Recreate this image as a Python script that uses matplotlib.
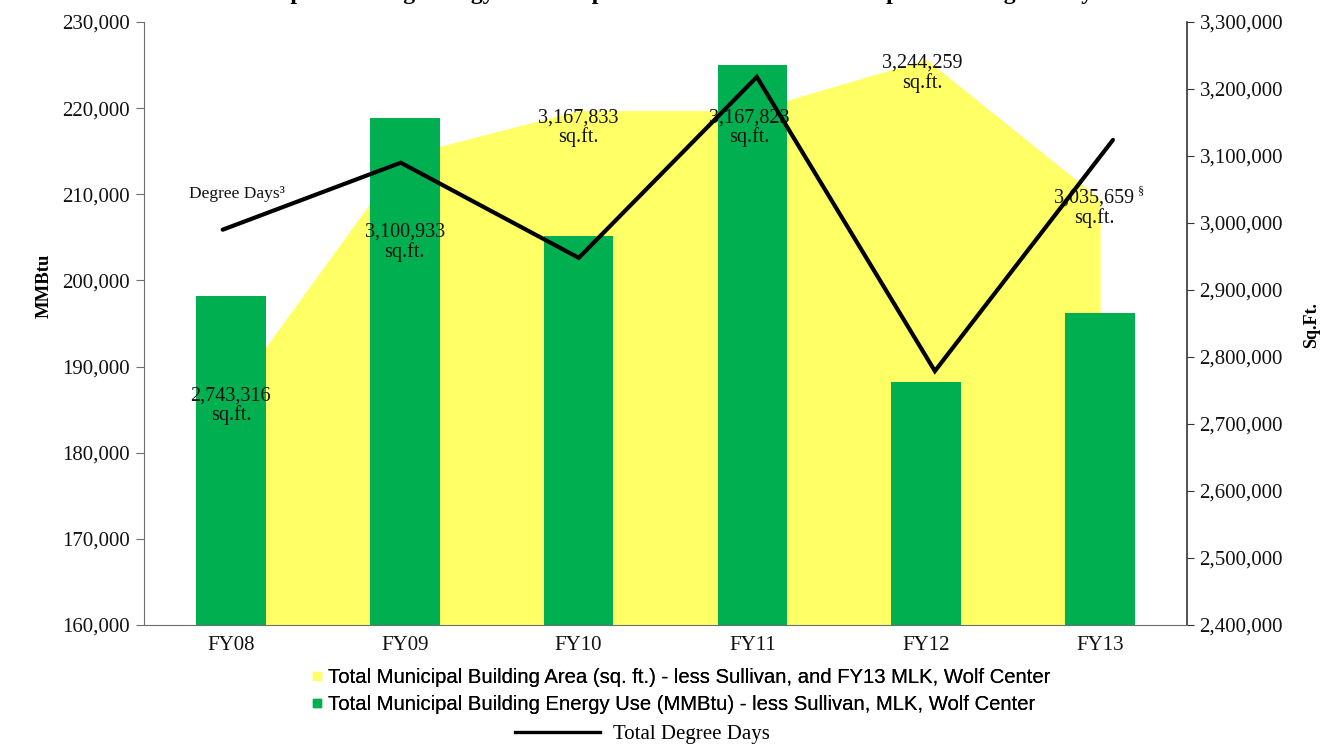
import matplotlib
matplotlib.use("Agg")
import matplotlib.pyplot as plt
from matplotlib.lines import Line2D
from matplotlib.ticker import FuncFormatter, MultipleLocator

# ---- data -------------------------------------------------------------
years = ["FY08", "FY09", "FY10", "FY11", "FY12", "FY13"]
energy_mmbtu = [198200, 218900, 205200, 225000, 188200, 196200]
area_sqft = [2743316, 3100933, 3167833, 3167823, 3244259, 3035659]
area_labels = ["2,743,316", "3,100,933", "3,167,833", "3,167,823", "3,244,259", "3,035,659"]
# degree-day curve, expressed on the square-foot scale it is drawn against
degree_days_scaled = [2990000, 3090000, 2948000, 3218000, 2779000, 3124000]

title = "Municipal Building Energy Use Compared to Total Area and Compared to Degree Days"
area_legend = "Total Municipal Building Area (sq. ft.) - less Sullivan, and FY13 MLK, Wolf Center"
energy_legend = "Total Municipal Building Energy Use (MMBtu) - less Sullivan, MLK, Wolf Center"
dd_legend = "Total Degree Days"

# ---- style --------------------------------------------------------------
SERIF = ["Liberation Serif", "DejaVu Serif"]
SANS = ["Liberation Sans", "DejaVu Sans"]
YELLOW = "#FFFF66"
GREEN = "#00B050"
AXIS_GRAY = "#6e6e6e"
plt.rcParams["font.family"] = SERIF

W, H = 1320, 745
fig = plt.figure(figsize=(W / 100, H / 100), dpi=100)
rect = [144 / W, 1 - 625 / H, (1187 - 144) / W, (625 - 22) / H]

ax = fig.add_axes(rect)            # MMBtu bars
ax2 = ax.twinx()                   # square-foot area
ax_dd = fig.add_axes(rect)         # degree-day line overlay

x = list(range(len(years)))

# area (behind the bars)
ax2.fill_between(x, 2400000, area_sqft, color=YELLOW, linewidth=0, zorder=1)
ax2.set_ylim(2400000, 3300000)
ax2.yaxis.set_major_locator(MultipleLocator(100000))

# bars in front of the area
ax.set_zorder(ax2.get_zorder() + 1)
ax.patch.set_visible(False)
ax.bar(x, [v - 160000 for v in energy_mmbtu], bottom=160000, width=0.4,
       color=GREEN, zorder=2)
ax.set_xlim(-0.5, len(years) - 0.5)
ax.set_ylim(160000, 230000)
ax.yaxis.set_major_locator(MultipleLocator(10000))
ax.set_xticks(x)
ax.set_xticklabels(years)

fmt = FuncFormatter(lambda v, p: f"{int(round(v)):,}")
ax.yaxis.set_major_formatter(fmt)
ax2.yaxis.set_major_formatter(fmt)

for a in (ax, ax2):
    a.tick_params(labelsize=15, colors="#111111")
    for s in a.spines.values():
        s.set_visible(False)
ax.spines["left"].set_visible(True)
ax.spines["bottom"].set_visible(True)
ax.spines["left"].set_color(AXIS_GRAY)
ax.spines["bottom"].set_color(AXIS_GRAY)
ax2.spines["right"].set_visible(True)
ax2.spines["right"].set_color("#333333")
ax2.spines["right"].set_linewidth(1.2)
ax.tick_params(axis="y", direction="out", length=6, color=AXIS_GRAY, pad=4)
ax.tick_params(axis="x", length=0, pad=8)
ax2.tick_params(axis="y", direction="out", length=5, color="#333333", pad=4)

# area value labels, drawn over the bars
label_offsets = [(0, -11), (0, -87), (0, -17), (-3, -17), (-4, -14), (-6, -9)]
for i, (val, txt) in enumerate(zip(area_sqft, area_labels)):
    dx, dy = label_offsets[i]
    ax.annotate(txt + "\nsq.ft.", xy=(i, val), xycoords=ax2.transData,
                xytext=(dx, dy), textcoords="offset pixels",
                ha="center", va="center", fontsize=14.5, linespacing=1.0,
                color="#111111", zorder=5)
ax.annotate("§", xy=(len(years) - 1, area_sqft[-1]), xycoords=ax2.transData,
            xytext=(41, 8), textcoords="offset pixels",
            ha="center", va="center", fontsize=9, color="#111111", zorder=5)

# degree-day line on its own overlay
ax_dd.set_zorder(ax.get_zorder() + 1)
ax_dd.patch.set_visible(False)
ax_dd.axis("off")
ax_dd.set_xlim(-0.442, 5.416)
ax_dd.set_ylim(2400000, 3300000)
ax_dd.plot(x, degree_days_scaled, color="black", linewidth=3.0,
           solid_capstyle="round", solid_joinstyle="miter")
ax_dd.annotate("Degree Days³", xy=(0, degree_days_scaled[0]),
               xytext=(14, 36), textcoords="offset pixels",
               ha="center", va="center", fontsize=12.5, color="#111111")

# axis titles
fig.text(44 / W, 1 - 286 / H, "MMBtu", rotation=90, ha="center", va="center",
         fontsize=13.5, fontweight="bold")
fig.text(1312 / W, 1 - 325 / H, "Sq.Ft.", rotation=90, ha="center", va="center",
         fontsize=13, fontweight="bold")

# chart title, sitting at the very top edge
fig.text(0.5, 1 + 1 / H, title, ha="center", va="baseline",
         fontsize=17, fontweight="bold")

# legends
h_area = Line2D([], [], marker="s", linestyle="None", color=YELLOW,
                markersize=6)
h_energy = Line2D([], [], marker="s", linestyle="None", color=GREEN,
                  markersize=6)
leg1 = fig.legend([h_area, h_energy], [area_legend, energy_legend],
                  loc="center left", bbox_to_anchor=(311 / W, 1 - 691 / H),
                  frameon=False, handlelength=0.6, handletextpad=0.25,
                  labelspacing=0.38, borderpad=0, borderaxespad=0,
                  prop={"family": SANS, "size": 14.6})
h_dd = Line2D([], [], color="black", linewidth=2.4)
leg2 = fig.legend([h_dd], [dd_legend], loc="center left",
                  bbox_to_anchor=(515 / W, 1 - 734 / H), frameon=False,
                  handlelength=4.1, handletextpad=0.6, borderpad=0,
                  borderaxespad=0, prop={"family": SERIF, "size": 15})
fig.add_artist(leg1)

fig.savefig("out.png", dpi=100)
